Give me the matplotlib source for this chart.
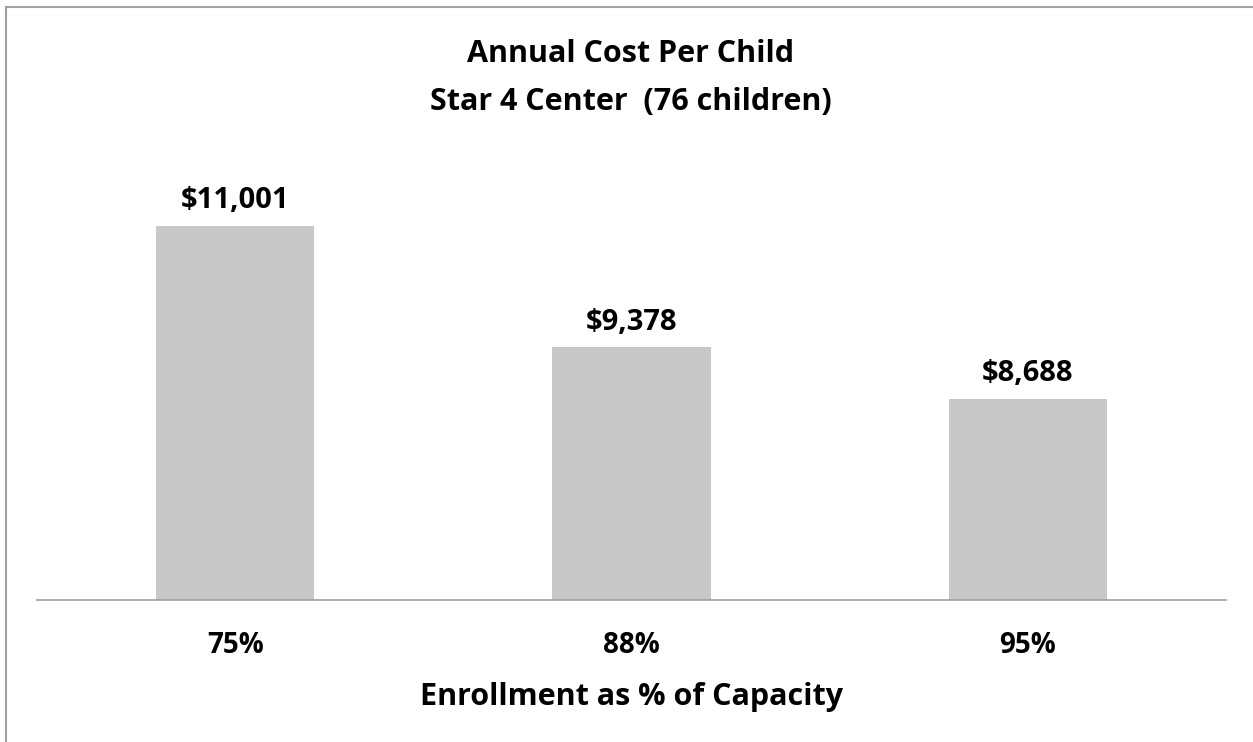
import matplotlib.pyplot as plt
from matplotlib.patches import Rectangle

plt.rcParams['font.family'] = ['Open Sans', 'DejaVu Sans']

# data
categories = ['75%', '88%', '95%']
costs = [11001, 9378, 8688]
cost_labels = ['$11,001', '$9,378', '$8,688']

fig = plt.figure(figsize=(12.53, 7.42), dpi=100)
ax = fig.add_axes([37 / 1253, 142 / 742, 1189 / 1253, 451 / 742])

x = range(len(categories))
bars = ax.bar(x, costs, width=0.4, color='#c8c8c8', bottom=0)
ax.set_ylim(6000, 12030)
ax.set_xlim(-0.5, 2.5)

# value labels above the bars
for b, lab in zip(bars, cost_labels):
    ax.annotate(lab, (b.get_x() + b.get_width() / 2, b.get_height()),
                xytext=(0, 18), textcoords='offset points',
                ha='center', va='center', fontsize=21, fontweight='bold')

ax.set_xticks(list(x))
ax.set_xticklabels(categories, fontsize=20, fontweight='bold')
ax.tick_params(axis='x', length=0, pad=22)
ax.set_yticks([])
for s in ['top', 'right', 'left']:
    ax.spines[s].set_visible(False)
ax.spines['bottom'].set_color('#a0a0a0')
ax.spines['bottom'].set_linewidth(1.2)

ax.set_xlabel('Enrollment as % of Capacity', fontsize=22, fontweight='bold', labelpad=16)

fig.text(631 / 1253, 1 - 54 / 742, 'Annual Cost Per Child', ha='center', va='center',
         fontsize=22, fontweight='bold')
fig.text(631 / 1253, 1 - 102 / 742, 'Star 4 Center  (76 children)', ha='center', va='center',
         fontsize=22, fontweight='bold')

# chart border (only top and left edges visible in the crop)
fig.patches.append(Rectangle((6 / 1253, -0.1), 1.2, 1 - 7 / 742 + 0.1,
                             transform=fig.transFigure, fill=False,
                             edgecolor='#a0a0a0', linewidth=1.5))

fig.savefig('out.png', dpi=100)
